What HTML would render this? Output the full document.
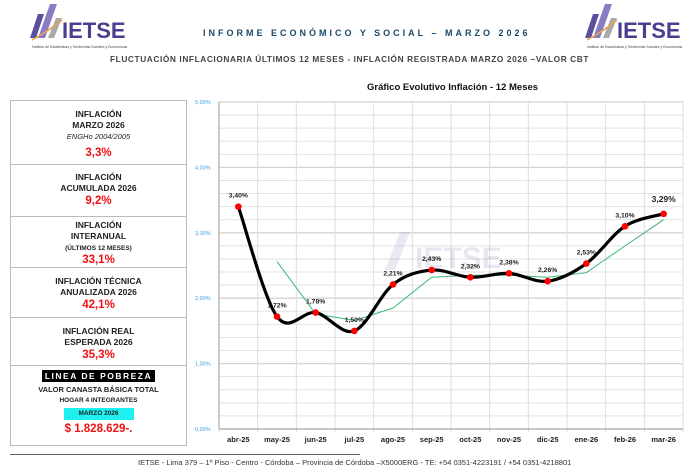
<!DOCTYPE html>
<html><head><meta charset="utf-8"><style>
body{margin:0;width:700px;height:470px;background:#fff;font-family:"Liberation Sans",sans-serif;position:relative;overflow:hidden}
.abs{position:absolute}
.box{position:absolute;left:10px;width:177px;border:1px solid #bbb;box-sizing:border-box;text-align:center;font-weight:bold;font-size:8.5px;color:#222;line-height:11px}
.red{color:#f01010;font-size:11.5px;line-height:15px}
.logo{position:absolute;width:110px;height:50px}
</style></head><body>
<svg class="abs" style="left:20px;top:0" width="110" height="52">
<polygon points="10,38 18,14 24,14 16,38" fill="#5b4fa0"/><polygon points="18,38 30,4 37,4 25,38" fill="#8a7cc4"/><polygon points="28,38 36,18 42,18 34,38" fill="#aaa"/>
<path d="M12,40 Q30,30 42,20" stroke="#e9a24a" fill="none" stroke-width="1.5"/>
<text x="42" y="38" font-size="22" font-weight="bold" fill="#4a3f8f" font-family="Liberation Sans">IETSE</text>
<text x="12" y="48" font-size="3.5" fill="#444">Instituto de Estadísticas y Tendencias Sociales y Económicas</text></svg>
<svg class="abs" style="left:575px;top:0" width="110" height="52">
<polygon points="10,38 18,14 24,14 16,38" fill="#5b4fa0"/><polygon points="18,38 30,4 37,4 25,38" fill="#8a7cc4"/><polygon points="28,38 36,18 42,18 34,38" fill="#aaa"/>
<path d="M12,40 Q30,30 42,20" stroke="#e9a24a" fill="none" stroke-width="1.5"/>
<text x="42" y="38" font-size="22" font-weight="bold" fill="#4a3f8f" font-family="Liberation Sans">IETSE</text>
<text x="12" y="48" font-size="3.5" fill="#444">Instituto de Estadísticas y Tendencias Sociales y Económicas</text></svg>
<div class="abs" style="left:203px;top:28px;font-size:9px;letter-spacing:3px;color:#1a4a6a;font-weight:bold">INFORME ECONÓMICO Y SOCIAL – MARZO 2026</div>
<div class="abs" style="left:110px;top:54px;font-size:8.3px;letter-spacing:0.6px;color:#444;font-weight:bold">FLUCTUACIÓN INFLACIONARIA ÚLTIMOS 12 MESES - INFLACIÓN REGISTRADA MARZO 2026 –VALOR CBT</div>
<div class="abs" style="left:367px;top:82px;font-size:9.5px;color:#111;font-weight:bold">Gráfico Evolutivo Inflación - 12 Meses</div>

<div class="box" style="top:100px;height:65px;padding-top:8px">INFLACIÓN<br>MARZO 2026<br><i style="font-weight:normal;font-size:7.5px">ENGHo 2004/2005</i><div class="red" style="margin-top:4px">3,3%</div></div>
<div class="box" style="top:164px;height:53px;padding-top:7px">INFLACIÓN<br>ACUMULADA 2026<div class="red">9,2%</div></div>
<div class="box" style="top:216px;height:52px;padding-top:3px">INFLACIÓN<br>INTERANUAL<br><span style="font-size:6.5px">(ÚLTIMOS 12 MESES)</span><div class="red" style="line-height:13px">33,1%</div></div>
<div class="box" style="top:267px;height:51px;padding-top:8px">INFLACIÓN TÉCNICA<br>ANUALIZADA 2026<div class="red">42,1%</div></div>
<div class="box" style="top:317px;height:49px;padding-top:8px">INFLACIÓN REAL<br>ESPERADA 2026<div class="red">35,3%</div></div>
<div class="box" style="top:365px;height:81px;padding-top:5px"><span style="background:#000;color:#fff;letter-spacing:1.5px;padding:1px 3px">LINEA DE POBREZA</span><div style="font-size:7.5px;margin-top:2px">VALOR CANASTA BÁSICA TOTAL</div><div style="font-size:6.5px">HOGAR 4 INTEGRANTES</div><div style="background:#1ef0f0;width:70px;margin:2px auto;font-size:6.5px;line-height:12px">MARZO 2026</div><div class="red">$ 1.828.629-.</div></div>

<svg class="abs" style="left:0;top:0" width="700" height="470" id="ch"></svg>
<div class="abs" style="left:10px;top:454px;width:350px;border-top:1px solid #666"></div>
<div class="abs" style="left:138px;top:458px;font-size:7.5px;color:#333">IETSE - Lima 379 – 1º Piso - Centro - Córdoba – Provincia de Córdoba –X5000ERG - TE: +54 0351-4223191 / +54 0351-4218801</div>
<script>
var s='',L=219,R=683,T=102,B=429,k=(B-T)/5;
for(var i=0;i<=25;i++){var y=B-i*k/5;s+='<line x1="'+L+'" x2="'+R+'" y1="'+y+'" y2="'+y+'" stroke="'+(i%5?'#e2e2e2':'#d4d4d4')+'" stroke-width="'+(i%5?1:1.3)+'"/>';}
var cw=(R-L)/12;
for(var i=0;i<=12;i++){var x=L+i*cw;s+='<line x1="'+x+'" x2="'+x+'" y1="'+T+'" y2="'+(B+3)+'" stroke="#ddd"/>';}
s+='<line x1="'+L+'" x2="'+L+'" y1="'+T+'" y2="'+B+'" stroke="#999"/><line x1="'+L+'" x2="'+R+'" y1="'+B+'" y2="'+B+'" stroke="#999"/>';
for(var i=0;i<=5;i++)s+='<text x="195" y="'+(B-i*k+2)+'" font-size="5.5" fill="#3aa0e0">'+i+',00%</text>';
var m=['abr-25','may-25','jun-25','jul-25','ago-25','sep-25','oct-25','nov-25','dic-25','ene-26','feb-26','mar-26'];
var v=[3.40,1.72,1.78,1.50,2.21,2.43,2.32,2.38,2.26,2.53,3.10,3.29];
var g=[null,2.56,1.76,1.66,1.85,2.32,2.35,2.35,2.32,2.39,2.80,3.20];
function X(i){return L+cw/2+i*cw}function Y(a){return B-a*k}
s+='<g opacity="0.12"><polygon points="385,270 400,232 410,232 395,270" fill="#5b4fa0"/><text x="415" y="268" font-size="30" font-weight="bold" fill="#4a3f8f">IETSE</text></g>';
for(var i=0;i<12;i++)s+='<text x="'+X(i)+'" y="442" font-size="7.5" font-weight="bold" text-anchor="middle" fill="#222">'+m[i]+'</text>';
var gp='';for(var i=1;i<12;i++)gp+=(i==1?'M':'L')+X(i)+','+Y(g[i]);
s+='<path d="'+gp+'" stroke="#3cb878" fill="none" stroke-width="1"/>';
var p=[];for(var i=0;i<12;i++)p.push([X(i),Y(v[i])]);
var d='M'+p[0];for(var i=0;i<11;i++){var a=p[Math.max(i-1,0)],b=p[i],c=p[i+1],e=p[Math.min(i+2,11)];
d+=' C'+(b[0]+(c[0]-a[0])/6)+','+(b[1]+(c[1]-a[1])/6)+' '+(c[0]-(e[0]-b[0])/6)+','+(c[1]-(e[1]-b[1])/6)+' '+c;}
s+='<path d="'+d+'" stroke="#000" fill="none" stroke-width="3.2"/>';
for(var i=0;i<12;i++){s+='<circle cx="'+p[i][0]+'" cy="'+p[i][1]+'" r="3.3" fill="#f00"/>';
var t=(v[i].toFixed(2)).replace('.',',')+'%';var big=i==11;
s+='<text x="'+p[i][0]+'" y="'+(p[i][1]-(big?12:9))+'" font-size="'+(big?8.5:6.8)+'" font-weight="bold" text-anchor="middle" fill="#222">'+t+'</text>';}
document.getElementById('ch').innerHTML=s;
</script>
</body></html>
